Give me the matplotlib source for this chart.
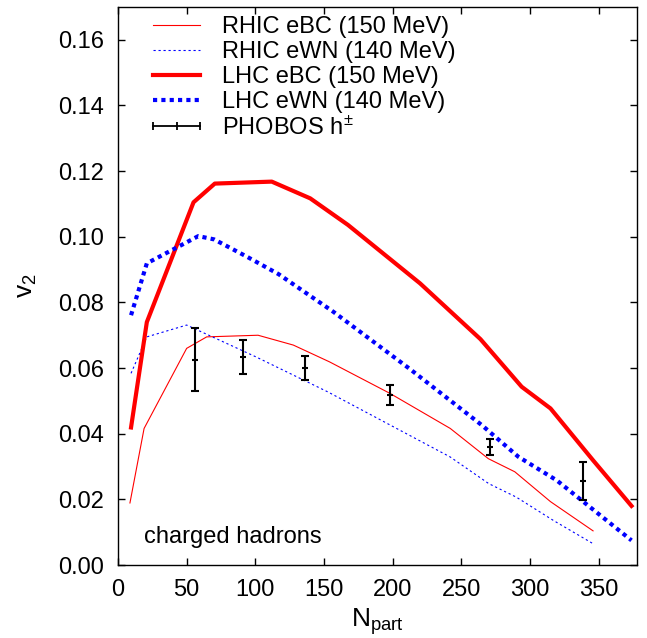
import matplotlib
matplotlib.use("Agg")
import matplotlib.pyplot as plt
from matplotlib.lines import Line2D

plt.rcParams['font.family'] = ['Liberation Sans', 'DejaVu Sans']
plt.rcParams['mathtext.fontset'] = 'custom'
plt.rcParams['mathtext.rm'] = 'Liberation Sans'
plt.rcParams['mathtext.it'] = 'Liberation Sans:italic'

# -- curves -- #
rhic_ebc_n = [8.7, 19, 50, 64.6, 102, 127.7, 154, 198, 242, 269.7, 289, 315, 346]
rhic_ebc_v = [0.0189, 0.0416, 0.066, 0.0695, 0.0700, 0.0670, 0.0619, 0.0523,
              0.0416, 0.0324, 0.0284, 0.0193, 0.0104]

rhic_ewn_n = [9.5, 21, 50, 100, 153, 242, 270, 290, 317, 346]
rhic_ewn_v = [0.0584, 0.0695, 0.0731, 0.0635, 0.0527, 0.0329, 0.0248, 0.0207,
              0.0136, 0.0065]

lhc_ebc_n = [9.5, 21, 55, 70.5, 112, 140, 167.5, 220, 264, 294, 315, 346, 374]
lhc_ebc_v = [0.0419, 0.074, 0.1105, 0.1162, 0.1168, 0.1117, 0.1036, 0.0858,
             0.0688, 0.0543, 0.0477, 0.0319, 0.018]

lhc_ewn_n = [9.5, 21, 58.5, 70, 94, 117, 157, 212, 265, 291.5, 319.5, 374]
lhc_ewn_v = [0.0761, 0.0919, 0.1002, 0.0992, 0.0939, 0.0886, 0.0771, 0.0599,
             0.0426, 0.0330, 0.0258, 0.0075]

# PHOBOS charged hadrons
phobos_n = [56, 91.3, 135.9, 198, 271, 338.4]
phobos_v = [0.0626, 0.0634, 0.0600, 0.0517, 0.0360, 0.0255]
phobos_err = [0.0097, 0.0053, 0.0037, 0.0030, 0.0025, 0.0058]

fig = plt.figure(figsize=(6.47, 6.38), dpi=100)
ax = fig.add_axes([118/647, 1 - 565/638, 519/647, 558/638])

ax.plot(rhic_ebc_n, rhic_ebc_v, color='#ff0000', lw=0.8, label='RHIC eBC (150 MeV)')
ax.plot(rhic_ewn_n, rhic_ewn_v, color='#0000ff', lw=0.8, dashes=(2, 2.5),
        label='RHIC eWN (140 MeV)')
ax.plot(lhc_ebc_n, lhc_ebc_v, color='#ff0000', lw=3, label='LHC eBC (150 MeV)')
ax.plot(lhc_ewn_n, lhc_ewn_v, color='#0000ff', lw=3, linestyle=(0, (1, 1)),
        label='LHC eWN (140 MeV)')
ax.errorbar(phobos_n, phobos_v, yerr=phobos_err, fmt='none', ecolor='black',
            elinewidth=1.5, capsize=3, capthick=1.5)
ax.plot(phobos_n, phobos_v, ls='none', marker='_', ms=4, mew=1.5, color='black')

proxy = Line2D([0], [0], color='black', lw=1.3, marker='|', ms=6, mew=1.3)
handles, labels = ax.get_legend_handles_labels()
handles.append(proxy)
labels.append(r'PHOBOS h$^{\pm}$')
ax.legend(handles, labels, loc='upper left', bbox_to_anchor=(0.054, 0.984),
          frameon=False, fontsize=17, handlelength=2.6, handletextpad=0.6,
          labelspacing=0.13, borderpad=0, borderaxespad=0, numpoints=3)

ax.text(0.05, 0.04, 'charged hadrons', transform=ax.transAxes, fontsize=17)

ax.set_xlim(0, 378)
ax.set_ylim(0, 0.17)
ax.set_xticks(range(0, 351, 50))
ax.set_yticks([0.0, 0.02, 0.04, 0.06, 0.08, 0.10, 0.12, 0.14, 0.16])
ax.set_yticklabels(['%.2f' % t for t in ax.get_yticks()])
ax.tick_params(direction='in', top=True, right=True, length=5, width=1,
               labelsize=17, pad=10)
for sp in ax.spines.values():
    sp.set_linewidth(1.0)

ax.set_xlabel(r'$\mathregular{N_{part}}$', fontsize=19, labelpad=4)
ax.set_ylabel(r'$\mathregular{v_2}$', fontsize=19, labelpad=14)

fig.savefig('out.png', dpi=100)
